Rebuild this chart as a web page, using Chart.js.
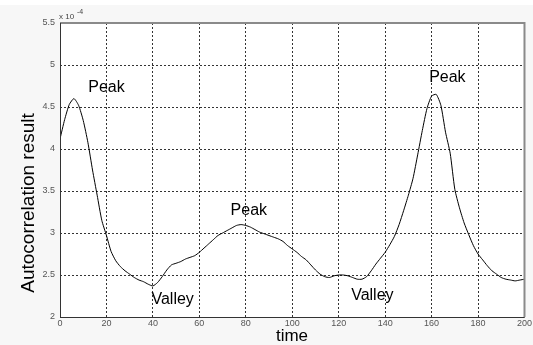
<!DOCTYPE html>
<html>
<head>
<meta charset="utf-8">
<script src="https://cdn.jsdelivr.net/npm/chart.js@4.4.1/dist/chart.umd.min.js"></script>
<style>
  html, body { margin: 0; padding: 0; background: #f7f7f7; }
  #wrap { width: 533px; height: 345px; position: relative; }
</style>
</head>
<body>
<div id="wrap"><canvas id="c" width="533" height="345"></canvas></div>
<script>
// time axis (samples) and autocorrelation values (x 1e-4)
const timeValues = [0,2,4,6,8,10,12,14,16,18,20,22,24,26,28,30,32,34,36,38,40,42,44,46,48,50,52,54,56,58,60,62,64,66,68,70,72,74,76,78,80,82,84,86,88,90,92,94,96,98,100,102,104,106,108,110,112,114,116,118,120,122,124,126,128,130,132,134,136,138,140,142,144,146,148,150,152,154,156,158,160,162,164,166,168,170,172,174,176,178,180,182,184,186,188,190,192,194,196,198,200];
const autocorr = [4.12,4.35,4.53,4.60,4.52,4.34,4.08,3.75,3.45,3.15,2.97,2.78,2.67,2.60,2.55,2.51,2.47,2.44,2.42,2.39,2.37,2.41,2.48,2.56,2.62,2.64,2.66,2.69,2.71,2.73,2.77,2.82,2.87,2.92,2.97,3.00,3.03,3.06,3.09,3.10,3.09,3.07,3.04,3.01,2.99,2.97,2.95,2.93,2.90,2.85,2.81,2.77,2.72,2.68,2.62,2.56,2.51,2.48,2.47,2.49,2.50,2.50,2.49,2.47,2.45,2.45,2.48,2.55,2.63,2.70,2.77,2.86,2.96,3.10,3.27,3.45,3.65,3.93,4.22,4.48,4.63,4.65,4.52,4.20,3.95,3.52,3.30,3.12,2.98,2.85,2.75,2.68,2.61,2.55,2.51,2.47,2.45,2.44,2.43,2.44,2.45];
const xTicks = [0,20,40,60,80,100,120,140,160,180,200];
const yTicks = [2,2.5,3,3.5,4,4.5,5,5.5];
const yTickLabels = ["2","2.5","3","3.5","4","4.5","5","5.5"];
const annoTexts = ["Peak","Valley","Peak","Valley","Peak"];
const annoX = [20.0,48.5,81.3,134.5,166.8];
const annoY = [4.73,2.21,3.27,2.25,4.85];
const xTitle = "time";
const yTitle = "Autocorrelation result";

const FONT = "'Liberation Sans', Arial, sans-serif";

const decor = {
  id: 'decor',
  beforeDraw(chart) {
    const ctx = chart.ctx, a = chart.chartArea;
    ctx.save();
    ctx.fillStyle = '#f7f7f7';
    ctx.fillRect(0, 0, chart.width, chart.height);
    ctx.fillStyle = '#ffffff';
    ctx.fillRect(0, 0, chart.width, 5);
    ctx.fillRect(a.left, a.top, a.right - a.left, a.bottom - a.top);
    ctx.restore();
  },
  afterDraw(chart) {
    const ctx = chart.ctx, a = chart.chartArea;
    const xs = chart.scales.x, ys = chart.scales.y;
    ctx.save();
    ctx.strokeStyle = '#8a8a8a';
    ctx.lineWidth = 2;
    ctx.beginPath();
    ctx.moveTo(a.left, a.top);
    ctx.lineTo(a.right, a.top);
    ctx.lineTo(a.right, a.bottom);
    ctx.stroke();
    ctx.strokeStyle = '#333';
    ctx.lineWidth = 1;
    ctx.beginPath();
    ctx.moveTo(a.left + 0.5, a.top);
    ctx.lineTo(a.left + 0.5, a.bottom + 0.5);
    ctx.lineTo(a.right, a.bottom + 0.5);
    ctx.stroke();
    ctx.fillStyle = '#000';
    ctx.font = "16px " + FONT;
    ctx.textAlign = 'center';
    ctx.textBaseline = 'middle';
    for (let i = 0; i < annoTexts.length; i++) {
      ctx.fillText(annoTexts[i], xs.getPixelForValue(annoX[i]), ys.getPixelForValue(annoY[i]));
    }
    ctx.font = "17px " + FONT;
    ctx.fillText(xTitle, 292, 336);
    ctx.save();
    ctx.translate(29, 203);
    ctx.rotate(-Math.PI / 2);
    ctx.font = "19px " + FONT;
    ctx.fillText(yTitle, 0, 0);
    ctx.restore();
    ctx.fillStyle = '#444';
    ctx.textAlign = 'left';
    ctx.textBaseline = 'alphabetic';
    ctx.font = "8px " + FONT;
    ctx.fillText("x 10", 59, 19);
    ctx.font = "7px " + FONT;
    ctx.fillText("-4", 77, 14);
    ctx.restore();
  }
};

new Chart(document.getElementById('c'), {
  type: 'line',
  data: {
    datasets: [{
      data: timeValues.map((t, i) => ({ x: t, y: autocorr[i] })),
      borderColor: '#000',
      borderWidth: 1,
      pointRadius: 0,
      tension: 0.2,
      fill: false
    }]
  },
  options: {
    responsive: false,
    animation: false,
    events: [],
    layout: { autoPadding: false, padding: { top: 23, right: 4, left: 0, bottom: 0 } },
    plugins: { legend: { display: false }, tooltip: { enabled: false } },
    scales: {
      x: {
        type: 'linear', min: 0, max: 200,
        afterFit(s) { s.height = 28; },
        afterBuildTicks(s) { s.ticks = xTicks.map(v => ({ value: v })); },
        ticks: { color: '#555', font: { family: FONT, size: 9 }, padding: 1, maxRotation: 0, autoSkip: false,
                 callback: (v) => String(v) },
        grid: { color: '#333', lineWidth: 1, drawTicks: false, tickLength: 0 },
        border: { display: false, dash: [2, 2] }
      },
      y: {
        type: 'linear', min: 2, max: 5.5,
        afterFit(s) { s.width = 60; },
        afterBuildTicks(s) { s.ticks = yTicks.map(v => ({ value: v })); },
        ticks: { color: '#555', font: { family: FONT, size: 9 }, padding: 5, autoSkip: false,
                 callback: (v) => { const i = yTicks.indexOf(v); return i >= 0 ? yTickLabels[i] : ''; } },
        grid: { color: '#333', lineWidth: 1, drawTicks: false, tickLength: 0 },
        border: { display: false, dash: [2, 2] }
      }
    }
  },
  plugins: [decor]
});
</script>
</body>
</html>
